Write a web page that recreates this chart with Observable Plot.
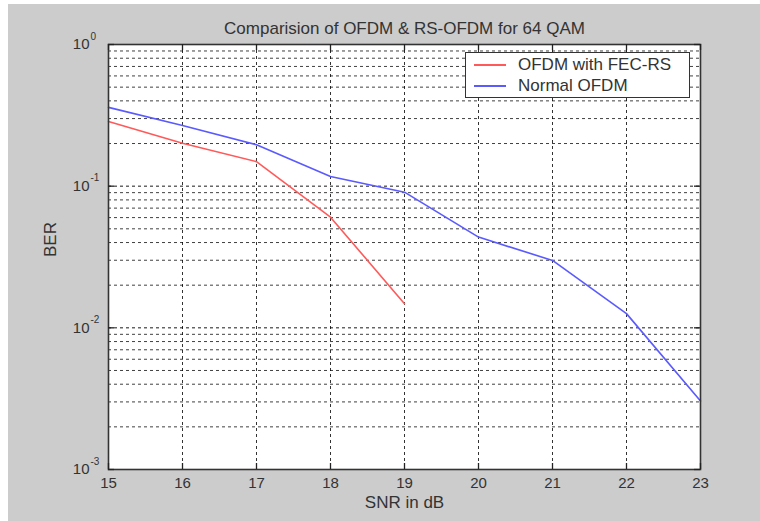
<!DOCTYPE html>
<html>
<head>
<meta charset="utf-8">
<script src="https://cdn.jsdelivr.net/npm/d3@7"></script>
<script src="https://cdn.jsdelivr.net/npm/@observablehq/plot@0.6"></script>
<style>
  html, body { margin: 0; padding: 0; background: #ffffff; overflow: hidden; }
  #wrap { position: relative; width: 760px; height: 521px; background: #ffffff; }
  #chart { position: absolute; left: 8px; top: 4px; }
  #legend {
    position: absolute; left: 465px; top: 52px; width: 223px; height: 44px;
    background: #ffffff; border: 1.5px solid #333333;
    font-family: "Liberation Sans", Arial, sans-serif; font-size: 17px; color: #333333;
  }
  .row { position: absolute; left: 0; height: 20px; display: flex; align-items: center; }
  .sw { width: 32px; height: 0; border-top: 2px solid; margin-left: 8px; margin-right: 12px; }
</style>
</head>
<body>
<div id="wrap">
  <div id="chart"></div>
  <div id="legend"></div>
</div>
<script>
// ---- data ----
const snr = [15, 16, 17, 18, 19, 20, 21, 22, 23];
const berNormal = [0.36, 0.268, 0.196, 0.117, 0.0907, 0.0437, 0.0299, 0.0126, 0.00304];
const snrFec = [15, 16, 17, 18, 19];
const berFec = [0.286, 0.201, 0.149, 0.0604, 0.0148];

const seriesNames = ["OFDM with FEC-RS", "Normal OFDM"];
const seriesColors = ["#ff5a5a", "#5a5aff"];

const xTicks = [15, 16, 17, 18, 19, 20, 21, 22, 23];
const yDecades = [0.001, 0.01, 0.1, 1];
const yExponents = ["-3", "-2", "-1", "0"];
const minorMultipliers = [2, 3, 4, 5, 6, 7, 8, 9];

const titleText = "Comparision of OFDM & RS-OFDM for 64 QAM";
const xLabel = "SNR in dB";
const yLabel = "BER";

// ---- derived tables ----
const fecRows = snrFec.map((s, i) => ({snr: s, ber: berFec[i]}));
const normalRows = snr.map((s, i) => ({snr: s, ber: berNormal[i]}));
const minorGrid = [];
for (const d of yDecades.slice(0, 3)) for (const m of minorMultipliers) minorGrid.push(d * m);
const innerDecades = yDecades.slice(1, 3);
const innerX = xTicks.slice(1, -1);

const W = 752, H = 517, ML = 100, MR = 60, MT = 40, MB = 52;
const FW = W - ML - MR, FH = H - MT - MB;
const font = "Liberation Sans, Arial, sans-serif";

const chart = Plot.plot({
  width: W, height: H,
  marginLeft: ML, marginRight: MR, marginTop: MT, marginBottom: MB,
  style: {background: "#cccccc", fontFamily: font, fontSize: "15px", color: "#333333"},
  x: {domain: [15, 23]},
  y: {type: "log", domain: [0.001, 1], axis: null},
  marks: [
    Plot.frame({fill: "#ffffff"}),
    Plot.ruleY(minorGrid, {y: d => d, stroke: "#000", strokeOpacity: 0.75, strokeDasharray: "3,3"}),
    Plot.ruleY(innerDecades, {y: d => d, stroke: "#000", strokeOpacity: 0.9, strokeDasharray: "3,3"}),
    Plot.ruleX(innerX, {x: d => d, stroke: "#000", strokeOpacity: 0.8, strokeDasharray: "3,3"}),
    Plot.line(normalRows, {x: "snr", y: "ber", stroke: seriesColors[1], strokeWidth: 1.6}),
    Plot.line(fecRows, {x: "snr", y: "ber", stroke: seriesColors[0], strokeWidth: 1.6}),
    Plot.frame({stroke: "#333333", strokeWidth: 1.6}),
    Plot.tickX(xTicks, {x: d => d, insetTop: FH - 6, stroke: "#222", strokeWidth: 1.3}),
    Plot.tickX(xTicks, {x: d => d, insetBottom: FH - 6, stroke: "#222", strokeWidth: 1.3}),
    Plot.tickY(yDecades, {y: d => d, insetRight: FW - 6, stroke: "#222", strokeWidth: 1.3}),
    Plot.tickY(yDecades, {y: d => d, insetLeft: FW - 6, stroke: "#222", strokeWidth: 1.3}),
    Plot.axisX(xTicks, {tickSize: 0, tickPadding: 8, label: null, fontSize: 15, fill: "#333"}),
    Plot.text(yDecades, {y: d => d, text: () => "10", frameAnchor: "left", textAnchor: "end", dx: -19, fontSize: 15, fill: "#333"}),
    Plot.text(yDecades, {y: d => d, text: (d, i) => yExponents[i], frameAnchor: "left", textAnchor: "start", dx: -18, dy: -8, fontSize: 10, fill: "#333"}),
    Plot.text([titleText], {text: d => d, frameAnchor: "top", dy: -23, fontSize: 17, fill: "#333"}),
    Plot.text([xLabel], {text: d => d, frameAnchor: "bottom", dy: 38, fontSize: 17, fill: "#333"}),
    Plot.text([yLabel], {text: d => d, frameAnchor: "left", dx: -58, rotate: -90, fontSize: 17, fill: "#333"})
  ]
});
document.getElementById("chart").appendChild(chart);

// ---- legend ----
const legend = document.getElementById("legend");
seriesNames.forEach((name, i) => {
  const row = document.createElement("div");
  row.className = "row";
  row.style.top = (2 + i * 21) + "px";
  const sw = document.createElement("span");
  sw.className = "sw";
  sw.style.borderTopColor = seriesColors[i];
  const tx = document.createElement("span");
  tx.textContent = name;
  row.appendChild(sw);
  row.appendChild(tx);
  legend.appendChild(row);
});
</script>
</body>
</html>
